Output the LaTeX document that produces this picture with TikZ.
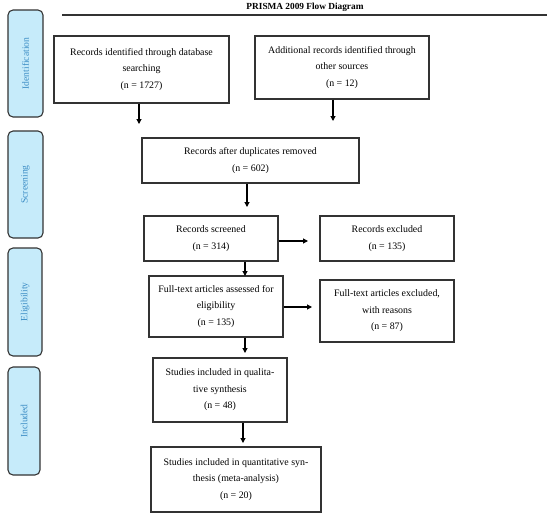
\documentclass[tikz,border=0pt]{standalone}
\usepackage{fontspec}
\setmainfont{Liberation Serif}
\usetikzlibrary{arrows.meta}
\definecolor{tabfill}{HTML}{C6EBFA}
\definecolor{tabtext}{HTML}{3C8DC5}
\definecolor{edge}{HTML}{333333}
\tikzset{
  box/.style={draw=edge, line width=1.1pt, fill=white, inner sep=0pt, align=center,
    font=\fontsize{9.9}{16.5}\selectfont},
  tab/.style={draw=edge, line width=1.1pt, fill=tabfill, rounded corners=5pt, inner sep=0pt},
  tablabel/.style={rotate=90, text=tabtext, font=\fontsize{9.6}{11}\selectfont},
  arr/.style={-{Triangle[length=5pt,width=5pt]}, line width=1.1pt, black},
}
\begin{document}
\begin{tikzpicture}[x=1pt,y=-1pt]
\useasboundingbox (0,0) rectangle (550,514);
% title
\node[font=\bfseries\fontsize{9.3}{11}\selectfont] (title) at (305,7) {PRISMA 2009 Flow Diagram};
\draw[line width=1.3pt, draw=edge] (62,15) coordinate (r1) -- (547,15) coordinate (r2);
% tabs
\node[tab, minimum width=35pt, minimum height=107pt] (t1) at (25.5,63.5) {};
\node[tablabel] (t1l) at (t1.center) {Identification};
\node[tab, minimum width=35pt, minimum height=107pt] (t2) at (25.5,184.5) {};
\node[tablabel] (t2l) at (t2.center) {Screening};
\node[tab, minimum width=34pt, minimum height=108pt] (t3) at (25,302) {};
\node[tablabel] (t3l) at (t3.center) {Eligibility};
\node[tab, minimum width=32pt, minimum height=108pt] (t4) at (24,421) {};
\node[tablabel] (t4l) at (t4.center) {Included};
% boxes
\node[box, minimum width=175pt, minimum height=67pt] (A) at (141.5,69.5)
  {Records identified through database\\searching\\(n = 1727)};
\node[box, minimum width=174pt, minimum height=63pt] (B) at (342,67.5)
  {Additional records identified through\\other sources\\(n = 12)};
\node[box, minimum width=217pt, minimum height=45pt] (C) at (250.5,160.5)
  {Records after duplicates removed\\(n = 602)};
\node[box, minimum width=134pt, minimum height=45pt] (D) at (211,238.5)
  {Records screened\\(n = 314)};
\node[box, minimum width=134pt, minimum height=45pt] (E) at (387,238.5)
  {Records excluded\\(n = 135)};
\node[box, minimum width=134pt, minimum height=61pt] (F) at (216,306.5)
  {Full-text articles assessed for\\eligibility\\(n = 135)};
\node[box, minimum width=134pt, minimum height=62pt] (G) at (387,311)
  {Full-text articles excluded,\\with reasons\\(n = 87)};
\node[box, minimum width=134pt, minimum height=64pt] (H) at (220,390)
  {Studies included in qualita-\\tive synthesis\\(n = 48)};
\node[box, minimum width=170pt, minimum height=65pt] (I) at (236,479.5)
  {Studies included in quantitative syn-\\thesis (meta-analysis)\\(n = 20)};
% arrow coordinates
\coordinate (xa) at (139,124);
\coordinate (xb) at (333,121);
\coordinate (xc) at (247,207);
\coordinate (xd) at (245,276);
\coordinate (xe) at (308,241);
\coordinate (xf) at (245,353);
\coordinate (xg) at (312,307);
\coordinate (xh) at (243,443);
% arrows
\draw[arr] (A.south -| xa) -- (xa);
\draw[arr] (B.south -| xb) -- (xb);
\draw[arr] (C.south -| xc) -- (xc);
\draw[arr] (D.east |- xe) -- (xe);
\draw[arr] (D.south -| xd) -- (xd);
\draw[arr] (F.east |- xg) -- (xg);
\draw[arr] (F.south -| xf) -- (xf);
\draw[arr] (H.south -| xh) -- (xh);
\end{tikzpicture}
\end{document}
